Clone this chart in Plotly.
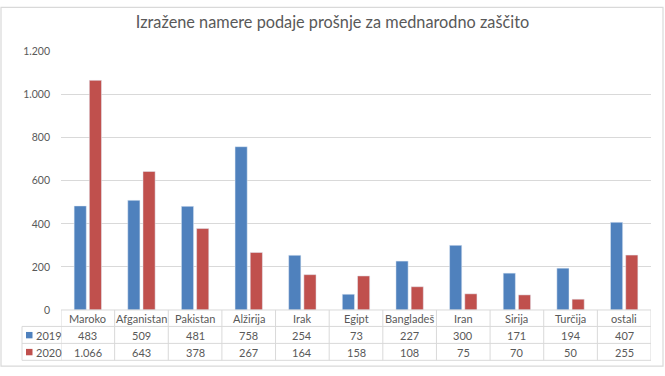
import plotly.graph_objects as go

categories = ["Maroko", "Afganistan", "Pakistan", "Alžirija", "Irak", "Egipt",
              "Bangladeš", "Iran", "Sirija", "Turčija", "ostali"]
values_2019 = [483, 509, 481, 758, 254, 73, 227, 300, 171, 194, 407]
values_2020 = [1066, 643, 378, 267, 164, 158, 108, 75, 70, 50, 255]
series_names = ["2019", "2020"]
y_ticks = [0, 200, 400, 600, 800, 1000, 1200]
title_text = "Izražene namere podaje prošnje za mednarodno zaščito"

W, H = 665, 376
BLUE = "#4F81BD"
RED = "#C0504D"
TXT = "#595959"
GRID = "#D9D9D9"
FONT = "Lato"

def px(x):
    return x / W

def py(y):
    return 1 - y / H

# plot area pixels
X0, X1 = 61, 651
Y_TOP, Y_ZERO = 47, 314

fig = go.Figure()
fig.add_bar(x=categories, y=values_2019, name=series_names[0], marker_color=BLUE)
fig.add_bar(x=categories, y=values_2020, name=series_names[1], marker_color=RED)

def fmt(v):
    return f"{v:,}".replace(",", ".")

shapes = []
annotations = []

# outer border
shapes.append(dict(type="rect", xref="paper", yref="paper",
                   x0=px(1), x1=px(663), y0=py(372), y1=py(1.5),
                   line=dict(color=GRID, width=1.2)))

# table rows (pixel y)
row_lines = [314, 331, 348.5, 366]
line_style = dict(color=GRID, width=1)
n = len(categories)
shapes.append(dict(type="line", xref="x", yref="paper", x0=-0.5, x1=n - 0.5,
                   y0=py(row_lines[0]), y1=py(row_lines[0]), line=line_style))
for yl in row_lines[1:]:
    shapes.append(dict(type="line", xref="paper", yref="paper", x0=px(22), x1=px(X1),
                       y0=py(yl), y1=py(yl), line=line_style))
shapes.append(dict(type="line", xref="paper", yref="paper", x0=px(22), x1=px(22),
                   y0=py(row_lines[1]), y1=py(row_lines[3]), line=line_style))
for k in range(n + 1):
    shapes.append(dict(type="line", xref="x", yref="paper", x0=k - 0.5, x1=k - 0.5,
                       y0=py(row_lines[0]), y1=py(row_lines[3]), line=line_style))

row_centers = [322.5, 340, 357.5]
cell_font = dict(family=FONT, size=11, color=TXT)
for i, c in enumerate(categories):
    for r, txt in enumerate([c, fmt(values_2019[i]), fmt(values_2020[i])]):
        annotations.append(dict(x=i, y=py(row_centers[r]), xref="x", yref="paper",
                                xanchor="center", yanchor="middle",
                                text=txt, showarrow=False, font=cell_font))

# legend keys in table
for j, (nm, col) in enumerate(zip(series_names, [BLUE, RED])):
    yc = row_centers[j + 1]
    shapes.append(dict(type="rect", xref="paper", yref="paper",
                       x0=px(26), x1=px(32.5), y0=py(yc + 3.3), y1=py(yc - 3.3),
                       fillcolor=col, line=dict(width=0)))
    annotations.append(dict(x=px(34), y=py(yc), xref="paper", yref="paper",
                            xanchor="left", yanchor="middle", text=nm, showarrow=False,
                            font=cell_font))

fig.update_layout(
    width=W, height=H,
    margin=dict(l=0, r=0, t=0, b=0),
    paper_bgcolor="white", plot_bgcolor="white",
    separators=",.",
    showlegend=False,
    barmode="group", bargap=0.433, bargroupgap=0.2,
    title=dict(text=title_text, x=0.5, xanchor="center", y=py(22.5), yanchor="middle",
               font=dict(family=FONT, size=16.3, color=TXT)),
    xaxis=dict(domain=[px(X0), px(X1)], showticklabels=False, showgrid=False,
               zeroline=False, showline=False, ticks="", range=[-0.5, n - 0.5]),
    yaxis=dict(domain=[py(Y_ZERO), py(Y_TOP)], range=[0, 1200], tickvals=y_ticks,
               tickformat=",d", showgrid=True, gridcolor=GRID, gridwidth=1,
               zeroline=False, showline=False, ticks="", ticklabelstandoff=10,
               tickfont=dict(family=FONT, size=10.5, color=TXT)),
    shapes=shapes,
    annotations=annotations,
    font=dict(family=FONT, color=TXT),
)

fig.write_html("out.html",
               config={"displayModeBar": False, "staticPlot": True},
               post_script="document.body.style.margin='0';document.body.style.overflow='hidden';")
